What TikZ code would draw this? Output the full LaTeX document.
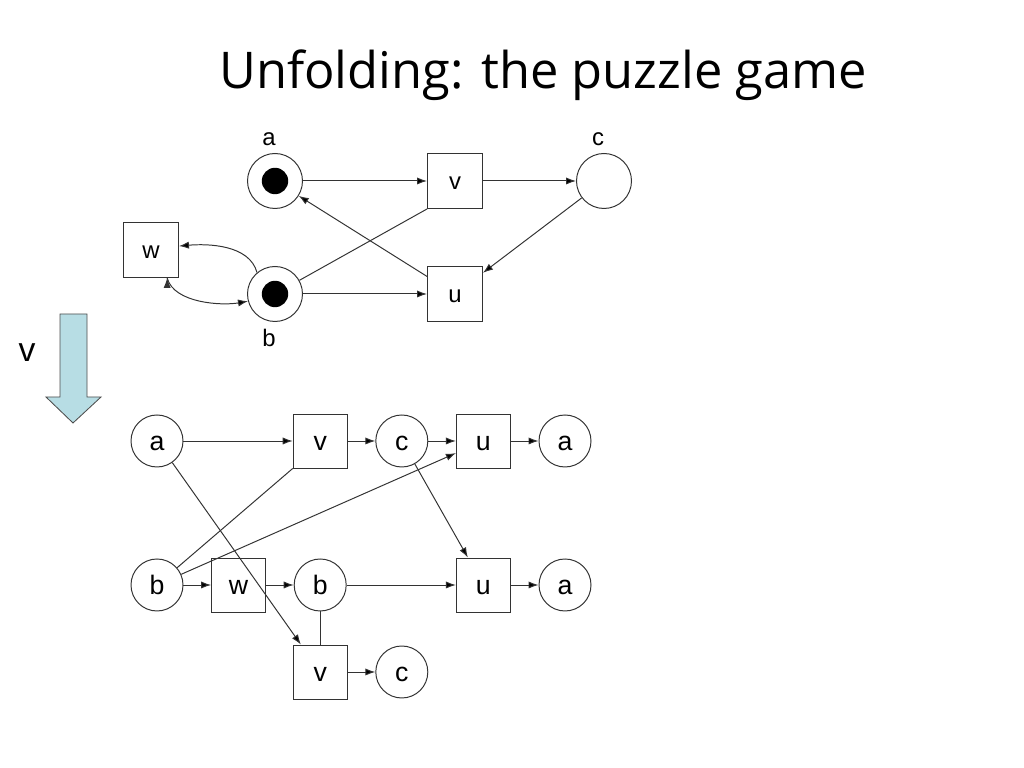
\documentclass[tikz,border=0pt]{standalone}
\usepackage{fontspec}
\setmainfont{Liberation Sans}
\newfontfamily\titlefont{Open Sans}
\usetikzlibrary{arrows.meta,positioning}

\definecolor{arrowblue}{RGB}{183,221,228}

\begin{document}
\begin{tikzpicture}[auto,node distance=2.04cm,
                    line width=0.7pt,
                    place node/.style={circle,draw=black!80,minimum size=1.3cm,inner sep=0pt,text height=15pt,text depth=1pt,font=\fontsize{19}{19}\selectfont},
                    trans node/.style={rectangle,draw=black!80,minimum size=1.35cm,inner sep=0pt,text height=15pt,text depth=1pt,font=\fontsize{19}{19}\selectfont},
                    top/.style={minimum size=1.375cm,text height=13pt,font=\fontsize{17}{17}\selectfont},
                    marked/.style={path picture={\fill[black] (path picture bounding box.center) circle (0.33cm);}},
                    tag/.style={font=\fontsize{17}{17}\selectfont,label distance=0.05cm,xshift=-0.15cm}]
  \useasboundingbox (0,0) rectangle (25.6,19.2);

  \node[font=\titlefont\fontsize{36}{40}\selectfont] (title) at (13.575,17.325) {Unfolding: the puzzle game};

  % the net
  \node[place node,top,marked,label={[tag]above:a}] (a) at (6.875,14.675) {};
  \node[trans node,top] (v) at (11.375,14.675) {v};
  \node[place node,top,label={[tag]above:c}] (c) at (15.1,14.675) {};
  \node[trans node,top] (w) at (3.775,12.95) {w};
  \node[place node,top,marked,label={[tag]below:b}] (b) at (6.875,11.85) {};
  \node[trans node,top] (u) at (11.375,11.85) {u};

  \path[draw=black!80,-{Latex[length=2.5mm,width=1.8mm]}]
    (a) edge (v)
    (v) edge (c)
    (c) edge (u)
    (u) edge (a)
    (b) edge (u)
        edge[-] (v.south west)
    (b.130) edge[out=105,in=5,looseness=0.9] (w.8)
    (w.-60) edge[out=-75,in=190,looseness=0.8] (b.195);

  % the step
  \node[font=\fontsize{24}{24}\selectfont] (step label) at (0.675,10.375) {v};
  \draw[fill=arrowblue,draw=black!70,line width=0.6pt]
    (1.5,11.35) -- (2.175,11.35) -- (2.175,9.275) -- (2.525,9.275)
    -- (1.825,8.625) -- (1.15,9.275) -- (1.5,9.275) -- cycle;

  % the unfolding
  \node[place node] (a1) at (3.925,8.175) {a};
  \node[trans node] (v1) [right of=a1,node distance=4.08cm] {v};
  \node[place node] (c1) [right of=v1] {c};
  \node[trans node] (u1) [right of=c1] {u};
  \node[place node] (a2) [right of=u1] {a};

  \node[place node] (b1) at (3.925,4.575) {b};
  \node[trans node] (w1) [right of=b1] {w};
  \node[place node] (b2) [right of=w1] {b};
  \node[trans node] (u2) [right of=b2,node distance=4.08cm] {u};
  \node[place node] (a3) [right of=u2] {a};

  \node[trans node] (v2) [below of=b2,node distance=2.175cm] {v};
  \node[place node] (c2) [right of=v2] {c};

  \path[draw=black!80,-{Latex[length=2.5mm,width=1.8mm]}]
    (a1) edge (v1)
         edge (v2)
    (v1) edge (c1)
    (c1) edge (u1)
         edge (u2)
    (u1) edge (a2)
    (b1) edge (w1)
         edge (u1)
         edge[-] (v1.south west)
    (w1) edge (b2)
    (b2) edge (u2)
         edge[-] (v2)
    (u2) edge (a3)
    (v2) edge (c2);
\end{tikzpicture}
\end{document}
